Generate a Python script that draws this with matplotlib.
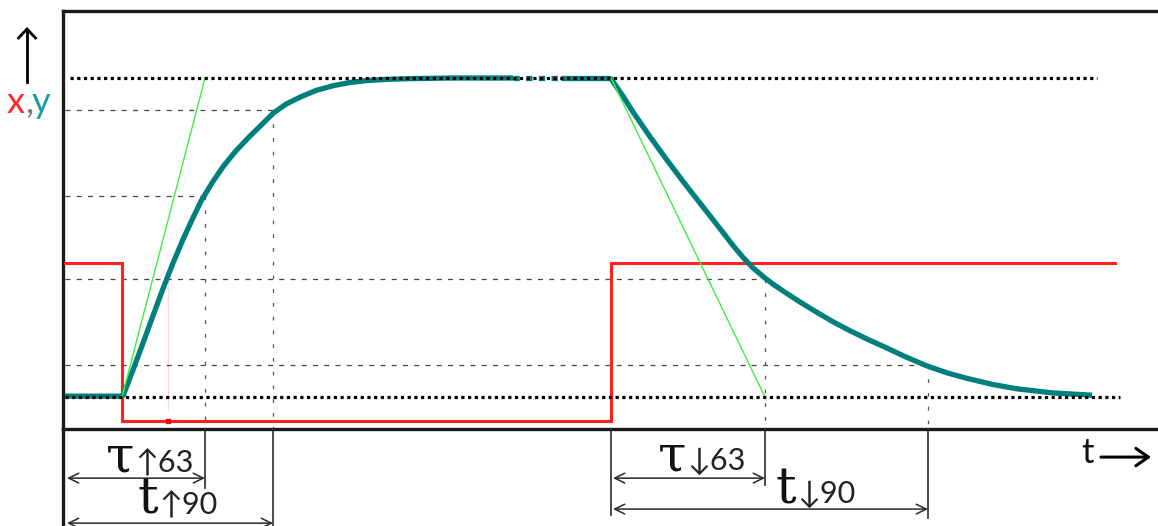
"""Step response sketch: input step x (red), first-order output y (teal), time constants."""

import matplotlib
matplotlib.use('Agg')
import matplotlib.pyplot as plt
from matplotlib.lines import Line2D

# ─── data (time in arbitrary units, level in % of the step) ───
t_step_down = 5.9       # x jumps low, y starts rising
t_step_up = 54.8        # x jumps high, y starts falling
t_rise_63, t_rise_90 = 14.2, 21.0
t_fall_63, t_fall_90 = 70.2, 86.5

x_high, x_low = 42.0, -7.5
x_t = [0.2, t_step_down, t_step_down, t_step_up, t_step_up, 105.2]
x_val = [x_high, x_high, x_low, x_low, x_high, x_high]

rise_t = [0.2, 5.9, 6.03, 7.0, 8.03, 9.0, 10.0, 11.0, 12.0, 13.0, 13.87, 15.0,
          16.03, 17.3, 18.7, 20.0, 21.03, 22.3, 23.7, 25.3, 27.03, 28.7, 30.37,
          32.5, 34.7, 38.7, 45.0]
rise_y = [0.3, 0.3, 0.6, 8.5, 17.2, 25.5, 34.0, 42.0, 49.4, 56.2, 61.8, 67.6,
          72.3, 77.2, 81.8, 85.8, 89.0, 91.8, 94.0, 96.1, 97.6, 98.6, 99.2,
          99.6, 99.8, 100.0, 100.0]
gap_t = [45.0, 49.8]
plateau_t = [49.8, 54.75]

fall_t = [54.75, 56.0, 57.03, 58.7, 60.37, 62.0, 63.7, 65.4, 67.03, 68.0, 69.0,
          70.2, 71.0, 72.03, 73.7, 75.37, 77.0, 78.7, 80.4, 82.03, 84.2, 86.37,
          88.4, 90.37, 92.9, 95.37, 99.0, 102.9]
fall_y = [100.0, 94.3, 89.2, 81.6, 74.4, 67.6, 60.8, 54.0, 47.4, 43.8, 40.5,
          37.3, 35.4, 33.2, 29.8, 26.6, 23.6, 20.8, 18.2, 15.9, 12.7, 9.8,
          7.6, 5.9, 4.0, 2.6, 1.3, 0.6]

TEAL = '#007f7d'
RED = '#ff2020'
GREEN = '#3cf03c'
DARK = '#1a1a1a'

W, H = 1158, 526
fig = plt.figure(figsize=(W / 100, H / 100), dpi=100)
ax = fig.add_axes([63 / W, (H - 429) / H, (W - 63) / W, (429 - 11) / H])
ax.set_xlim(0, 109.5)
ax.set_ylim(-10.0, 121.0)
ax.set_xticks([])
ax.set_yticks([])
ax.spines['right'].set_visible(False)
for s in ('top', 'bottom', 'left'):
    ax.spines[s].set_linewidth(2.4)
    ax.spines[s].set_color(DARK)

# ─── reference levels ───
dots = dict(color='black', lw=2.3, linestyle=(0, (1, 1.1)), zorder=6)
ax.plot([0.7, 103.4], [100, 100], **dots)
ax.plot([0.2, 105.7], [0, 0], **dots)

dash = dict(color='#444444', lw=0.9, linestyle=(0, (4, 5)), zorder=2)
for lvl, t_end in [(90, t_rise_90), (63, t_rise_63), (37, t_fall_63), (10, t_fall_90)]:
    ax.plot([0.2, t_end], [lvl, lvl], **dash)

vdash = dict(color='#4a5670', lw=0.9, linestyle=(0, (3, 8)), zorder=2)
for lvl, t in [(63, t_rise_63), (90, t_rise_90), (37, t_fall_63), (10, t_fall_90)]:
    ax.plot([t, t], [lvl, -10], **vdash)

# faint mark on the rise
ax.plot([10.5, 10.5], [36.7, -4], color='#ffd6d6', lw=0.8, zorder=1)

# ─── signals ───
ax.plot(x_t, x_val, color=RED, lw=2.2, zorder=3, solid_joinstyle='miter')
ax.plot([10.5], [x_low], 's', color='#e01010', ms=2.5, zorder=3)

ax.plot(rise_t, rise_y, color=TEAL, lw=3.8, zorder=4, solid_capstyle='butt')
ax.plot(gap_t, [100, 100], color=TEAL, lw=3.8, zorder=4, linestyle=(0, (1.2, 1.2)))
ax.plot(plateau_t, [100, 100], color=TEAL, lw=3.8, zorder=4, solid_capstyle='butt')
ax.plot(fall_t, fall_y, color=TEAL, lw=3.8, zorder=4, solid_capstyle='butt')

# tangents
ax.plot([t_step_down, t_rise_63], [0, 100], color=GREEN, lw=1.0, zorder=5)
ax.plot([t_step_up, t_fall_63], [100, 0], color=GREEN, lw=1.0, zorder=5)

# ─── annotations below the time axis ───
solid = dict(color='#2a2a2a', lw=1.2, clip_on=False, zorder=7)
ax.plot([0, 0], [-10, -40.5], color=DARK, lw=2.4, clip_on=False)
ax.plot([t_rise_63, t_rise_63], [-10, -28.5], **solid)
ax.plot([t_rise_90, t_rise_90], [-10, -40.5], **solid)
ax.plot([t_step_up, t_step_up], [-10, -37.0], **solid)
ax.plot([t_fall_63, t_fall_63], [-10, -27.6], **solid)
ax.plot([t_fall_90, t_fall_90], [-10, -37.9], **solid)

arrow = dict(arrowstyle='<->,head_length=0.45,head_width=0.22', color='#2a2a2a',
             lw=1.1, shrinkA=0, shrinkB=0, mutation_scale=16)
for t0, t1, y in [(0.4, t_rise_63, -25.4), (0.4, t_rise_90, -39.5),
                  (t_step_up + 0.2, t_fall_63, -25.4), (t_step_up + 0.2, t_fall_90, -35.1)]:
    ax.annotate('', xy=(t1, y), xytext=(t0, y), arrowprops=arrow, annotation_clip=False)

big = dict(family='DejaVu Serif', fontsize=37, ha='right', va='baseline', color='#111111')
small = dict(family=['Lato', 'DejaVu Sans'], fontsize=22, ha='left', va='baseline', color='#222222')
labels = [(7.1, -23.2, 'τ', '↑63'), (9.5, -36.4, 't', '↑90'),
          (62.3, -22.9, 'τ', '↓63'), (73.3, -33.2, 't', '↓90')]
for t, y, main, sub in labels:
    ax.text(t, y, main, clip_on=False, **big)
    ax.text(t + 0.1, y, sub, clip_on=False, **small)

# ─── axis captions ───
ax.text(101.8, -20.8, 't', family=['Lato', 'DejaVu Sans'], fontsize=25,
        ha='left', va='baseline', color='#111111', clip_on=False)
ax.annotate('', xy=(108.8, -18.8), xytext=(103.8, -18.8), annotation_clip=False,
            arrowprops=dict(arrowstyle='->,head_length=0.5,head_width=0.35',
                            color='black', lw=2.2, shrinkA=0, shrinkB=0,
                            mutation_scale=18))

fig.add_artist(Line2D([27 / W, 27 / W], [1 - 82 / H, 1 - 30 / H], color='black', lw=2.0))
fig.add_artist(Line2D([18.5 / W, 27 / W, 35.5 / W], [1 - 38 / H, 1 - 29 / H, 1 - 38 / H],
                      color='black', lw=2.0, solid_joinstyle='miter'))

cap = dict(family=['Lato', 'DejaVu Sans'], fontsize=26, va='baseline', ha='left')
fig.text(7 / W, 1 - 113 / H, 'x', color='#ff2a2a', **cap)
fig.text(25 / W, 1 - 113 / H, ',', color='#7a7a7a', **cap)
fig.text(32 / W, 1 - 113 / H, 'y', color='#1f9aa6', **cap)

fig.savefig('out.png', dpi=100)
